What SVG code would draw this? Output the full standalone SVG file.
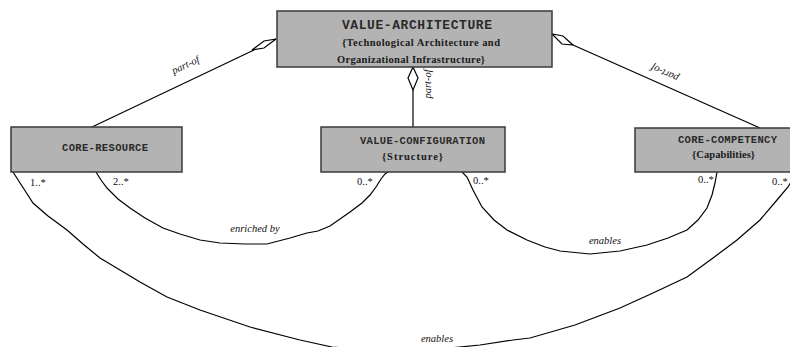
<svg xmlns="http://www.w3.org/2000/svg" width="790" height="347" viewBox="0 0 790 347">
<style>
.box{fill:#b3b3b3;stroke:#3a3a3a;stroke-width:1.5}
.mono{font-family:"Liberation Mono","Courier New",monospace;font-weight:bold;fill:#2a2a2a}
.ser{font-family:"Liberation Serif","Times New Roman",serif;font-weight:bold;fill:#1a1a1a;font-size:10.5px}
.lbl{font-family:"Liberation Serif","Times New Roman",serif;font-style:italic;fill:#111;font-size:10.5px}
.mul{font-family:"Liberation Serif","Times New Roman",serif;fill:#111;font-size:10.5px}
.ln{fill:none;stroke:#000;stroke-width:1.2}
.dia{fill:#fff;stroke:#000;stroke-width:1.2}
</style>
<rect width="790" height="347" fill="#fff"/>
<g id="connectors">
<path class="ln" d="M92,127 L254,50"/>
<polygon class="dia" points="276,39 264,41 252,50 264,48"/>
<text class="lbl" transform="translate(187,68) rotate(-25.5)" text-anchor="middle">part-of</text>
<path class="ln" d="M760,128 L573,45"/>
<polygon class="dia" points="552,34 562,44 573,45 563,36"/>
<text class="lbl" transform="translate(666,70) rotate(204)" text-anchor="middle">part-of</text>
<path class="ln" d="M413,90 L413,127"/>
<polygon class="dia" points="413,67 418,78 413,90 408,78"/>
<text class="lbl" transform="translate(431,84) rotate(-90)" text-anchor="middle">part-of</text>
<path class="ln" d="M96,172 L101,180 L107,188 L118,199 L130,208 L145,218 L163,228 L180,234 L200,240 L220,243 L245,244 L267,244 L290,238 L307,233 L318,231 L330,226 L350,212 L362,203 L370,195 L376,187 L381,179 L385,174 L388,172"/>
<text class="lbl" x="255" y="232" text-anchor="middle">enriched by</text>
<path class="ln" d="M462,172 L467,177 L473,190 L482,207 L494,220 L507,230 L527,240 L545,247 L560,251 L590,254 L620,251 L647,245 L668,238 L687,230 L698,220 L707,208 L712,195 L715,183 L717,172"/>
<text class="lbl" x="605" y="244" text-anchor="middle">enables</text>
<path class="ln" d="M13,172 L22,186 L33,203 L48,216 L67,230 L83,244 L100,258 L120,270 L140,282 L167,297 L200,310 L250,327 L300,340 L332,347 L400,353 L480,345 L513,340 L530,338 L575,325 L620,308 L653,293 L687,277 L713,258 L737,240 L760,220 L777,200 L788,187 L795,175"/>
<text class="lbl" x="437" y="342" text-anchor="middle">enables</text>
<text class="mul" x="30" y="186">1..*</text>
<text class="mul" x="113" y="185">2..*</text>
<text class="mul" x="357" y="185">0..*</text>
<text class="mul" x="473" y="184">0..*</text>
<text class="mul" x="698" y="183">0..*</text>
<text class="mul" x="772" y="185">0..*</text>
</g>
<g id="value-architecture">
<rect class="box" x="277" y="11" width="275" height="56"/>
<text class="mono" x="342" y="29" font-size="13" textLength="150">VALUE-ARCHITECTURE</text>
<text class="ser" x="342" y="46" textLength="158">{Technological Architecture and</text>
<text class="ser" x="337" y="63" textLength="148">Organizational Infrastructure}</text>
</g>
<g id="core-resource">
<rect class="box" x="11" y="127" width="171" height="45"/>
<text class="mono" x="62" y="151" font-size="10.5" font-weight="normal" textLength="86">CORE-RESOURCE</text>
</g>
<g id="value-configuration">
<rect class="box" x="321" y="127" width="184" height="45"/>
<text class="mono" x="360" y="144" font-size="10.5" textLength="125">VALUE-CONFIGURATION</text>
<text class="ser" x="382" y="160" textLength="61">{Structure}</text>
</g>
<g id="core-competency">
<rect class="box" x="635" y="128" width="160" height="44"/>
<text class="mono" x="678" y="143" font-size="10.5" textLength="99">CORE-COMPETENCY</text>
<text class="ser" x="692" y="158" textLength="63">{Capabilities}</text>
</g>
</svg>
